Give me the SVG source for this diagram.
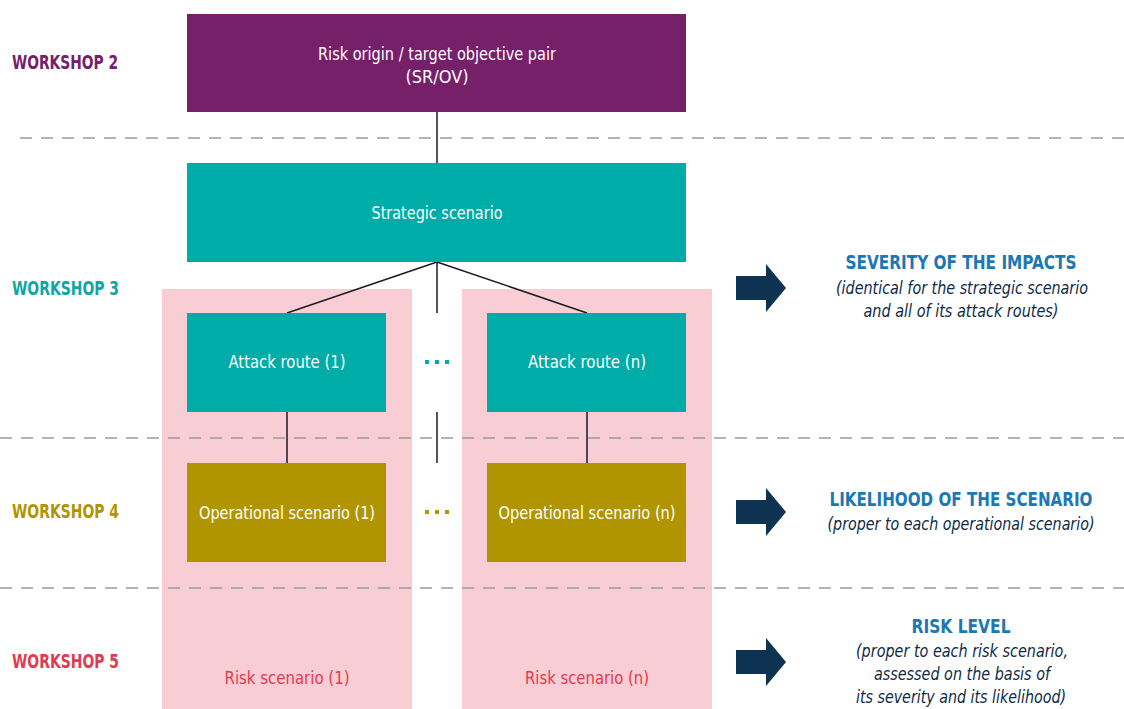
<svg xmlns="http://www.w3.org/2000/svg" width="1124" height="709" viewBox="0 0 1124 709">
<style>
text{font-family:"Liberation Sans Narrow","DejaVu Sans Condensed","Liberation Sans",sans-serif;}
.lbl{fill:#ffffff;font-size:18px;text-anchor:middle;}
.ws{font-size:19px;font-weight:bold;}
.head{fill:#1b78b4;font-size:19px;font-weight:bold;text-anchor:middle;}
.sub{fill:#0e2a45;font-size:17px;font-style:italic;text-anchor:middle;}
.dash{stroke:#9a9a9a;stroke-width:1.5;stroke-dasharray:12 9;fill:none;}
.conn{stroke:#1a1a2a;stroke-width:1.5;fill:none;}
.band{fill:#f8cdd3;}
.purple{fill:#76206a;}
.teal{fill:#00aca7;}
.olive{fill:#b09500;}
.arrow{fill:#0e3251;}
</style>
<rect width="1124" height="709" fill="#ffffff"/>

<g id="bands">
<rect class="band" x="162" y="289" width="250" height="420"/>
<rect class="band" x="462" y="289" width="250" height="420"/>
</g>

<g id="separators">
<line class="dash" x1="20" y1="138" x2="1124" y2="138"/>
<line class="dash" x1="0" y1="438" x2="1124" y2="438"/>
<line class="dash" x1="0" y1="588" x2="1124" y2="588"/>
</g>

<g id="connectors">
<line class="conn" x1="437" y1="112" x2="437" y2="163"/>
<line class="conn" x1="437" y1="262" x2="287" y2="313"/>
<line class="conn" x1="437" y1="262" x2="587" y2="313"/>
<line class="conn" x1="437" y1="262" x2="437" y2="313"/>
<line class="conn" x1="437" y1="412" x2="437" y2="463"/>
<line class="conn" x1="287" y1="412" x2="287" y2="463"/>
<line class="conn" x1="587" y1="412" x2="587" y2="463"/>
</g>

<g id="workshop-labels">
<text class="ws" x="12" y="69" fill="#76206a" textLength="106" lengthAdjust="spacingAndGlyphs">WORKSHOP 2</text>
<text class="ws" x="12" y="295" fill="#10a5a5" textLength="107" lengthAdjust="spacingAndGlyphs">WORKSHOP 3</text>
<text class="ws" x="12" y="518" fill="#b09500" textLength="107" lengthAdjust="spacingAndGlyphs">WORKSHOP 4</text>
<text class="ws" x="12" y="668" fill="#e23a50" textLength="107" lengthAdjust="spacingAndGlyphs">WORKSHOP 5</text>
</g>

<g id="node-srov">
<rect class="purple" x="187" y="14" width="499" height="98"/>
<text class="lbl" x="437" y="60" textLength="238" lengthAdjust="spacingAndGlyphs">Risk origin / target objective pair</text>
<text class="lbl" x="437" y="83" textLength="63" lengthAdjust="spacingAndGlyphs">(SR/OV)</text>
</g>

<g id="node-strategic">
<rect class="teal" x="187" y="163" width="499" height="99"/>
<text class="lbl" x="437" y="219" textLength="131" lengthAdjust="spacingAndGlyphs">Strategic scenario</text>
</g>

<g id="node-attack1">
<rect class="teal" x="187" y="313" width="199" height="99"/>
<text class="lbl" x="287" y="368" textLength="117" lengthAdjust="spacingAndGlyphs">Attack route (1)</text>
</g>

<g id="node-attackn">
<rect class="teal" x="487" y="313" width="199" height="99"/>
<text class="lbl" x="587" y="368" textLength="118" lengthAdjust="spacingAndGlyphs">Attack route (n)</text>
</g>

<g id="dots-attack">
<rect class="teal" x="425" y="360" width="4" height="4"/>
<rect class="teal" x="435" y="360" width="4" height="4"/>
<rect class="teal" x="445" y="360" width="4" height="4"/>
</g>

<g id="node-op1">
<rect class="olive" x="187" y="463" width="199" height="99"/>
<text class="lbl" x="287" y="519" textLength="176" lengthAdjust="spacingAndGlyphs">Operational scenario (1)</text>
</g>

<g id="node-opn">
<rect class="olive" x="487" y="463" width="199" height="99"/>
<text class="lbl" x="587" y="519" textLength="177" lengthAdjust="spacingAndGlyphs">Operational scenario (n)</text>
</g>

<g id="dots-op">
<rect class="olive" x="425" y="510" width="4" height="4"/>
<rect class="olive" x="435" y="510" width="4" height="4"/>
<rect class="olive" x="445" y="510" width="4" height="4"/>
</g>

<g id="node-risk1">
<text x="287" y="684" font-size="18" fill="#e23a50" text-anchor="middle" textLength="125" lengthAdjust="spacingAndGlyphs">Risk scenario (1)</text>
</g>
<g id="node-riskn">
<text x="587" y="684" font-size="18" fill="#e23a50" text-anchor="middle" textLength="124" lengthAdjust="spacingAndGlyphs">Risk scenario (n)</text>
</g>

<g id="arrows">
<polygon class="arrow" points="736,276 766,276 766,264 786,288 766,312 766,300 736,300"/>
<polygon class="arrow" points="736,500 766,500 766,488 786,512 766,536 766,524 736,524"/>
<polygon class="arrow" points="736,650 766,650 766,638 786,662 766,686 766,674 736,674"/>
</g>

<g id="severity">
<text class="head" x="961" y="269" textLength="231" lengthAdjust="spacingAndGlyphs">SEVERITY OF THE IMPACTS</text>
<text class="sub" x="962" y="294" textLength="252" lengthAdjust="spacingAndGlyphs">(identical for the strategic scenario</text>
<text class="sub" x="961" y="317" textLength="195" lengthAdjust="spacingAndGlyphs">and all of its attack routes)</text>
</g>

<g id="likelihood">
<text class="head" x="961" y="506" textLength="263" lengthAdjust="spacingAndGlyphs">LIKELIHOOD OF THE SCENARIO</text>
<text class="sub" x="961" y="530" textLength="267" lengthAdjust="spacingAndGlyphs">(proper to each operational scenario)</text>
</g>

<g id="risklevel">
<text class="head" x="961" y="633" textLength="99" lengthAdjust="spacingAndGlyphs">RISK LEVEL</text>
<text class="sub" x="962" y="657" textLength="212" lengthAdjust="spacingAndGlyphs">(proper to each risk scenario,</text>
<text class="sub" x="962" y="680" textLength="176" lengthAdjust="spacingAndGlyphs">assessed on the basis of</text>
<text class="sub" x="961" y="703" textLength="210" lengthAdjust="spacingAndGlyphs">its severity and its likelihood)</text>
</g>
</svg>
